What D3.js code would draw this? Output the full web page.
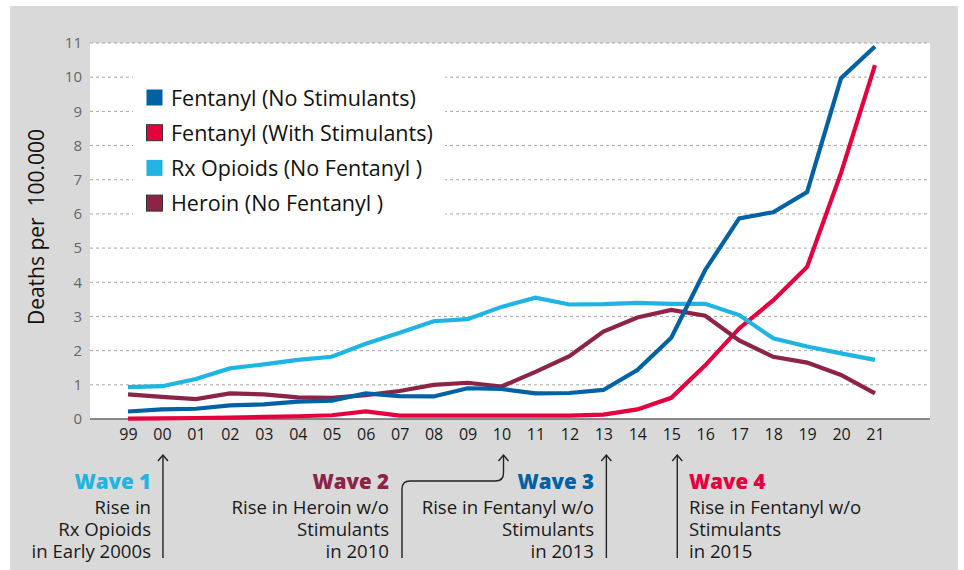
<!DOCTYPE html>
<html>
<head>
<meta charset="utf-8">
<script src="https://cdn.jsdelivr.net/npm/d3@7"></script>
<style>
  html, body { margin: 0; padding: 0; background: #fff; }
  svg { display: block; font-family: "Open Sans", "Noto Sans", sans-serif; }
</style>
</head>
<body>
<svg id="chart" width="964" height="570"></svg>
<script>
// Overdose death rates per 100,000, 1999–2021
const years = ["99","00","01","02","03","04","05","06","07","08","09","10","11","12","13","14","15","16","17","18","19","20","21"];
const fentanylNoStim   = [0.22,0.28,0.30,0.40,0.43,0.51,0.54,0.75,0.67,0.66,0.90,0.88,0.75,0.76,0.85,1.43,2.38,4.36,5.87,6.05,6.64,9.97,10.9];
const fentanylWithStim = [0.01,0.02,0.03,0.04,0.06,0.08,0.11,0.22,0.10,0.10,0.10,0.10,0.10,0.10,0.13,0.28,0.62,1.57,2.65,3.47,4.45,7.20,10.35];
const rxOpioids        = [0.93,0.96,1.17,1.48,1.60,1.73,1.82,2.20,2.52,2.86,2.92,3.28,3.55,3.35,3.36,3.40,3.37,3.37,3.04,2.36,2.12,1.92,1.73];
const heroin           = [0.72,0.65,0.58,0.75,0.72,0.63,0.62,0.70,0.82,1.00,1.06,0.95,1.38,1.84,2.56,2.97,3.19,3.02,2.30,1.82,1.65,1.29,0.75];
const yTicks = [0,1,2,3,4,5,6,7,8,9,10,11];

const seriesNames  = ["Fentanyl (No Stimulants)", "Fentanyl (With Stimulants)", "Rx Opioids (No Fentanyl )", "Heroin (No Fentanyl )"];
const seriesColors = ["#0062a4", "#e5003e", "#1fb4e2", "#8c2447"];
const seriesValues = [fentanylNoStim, fentanylWithStim, rxOpioids, heroin];

// Wave annotations
const waveTitles = ["Wave 1", "Wave 2", "Wave 3", "Wave 4"];
const waveLines = [
  ["Rise in", "Rx Opioids", "in Early 2000s"],
  ["Rise in Heroin w/o", "Stimulants", "in 2010"],
  ["Rise in Fentanyl w/o", "Stimulants", "in 2013"],
  ["Rise in Fentanyl w/o", "Stimulants", "in 2015"]
];
const waveYears = ["00", "10", "13", "15"];
const waveColors = ["#1fb4e2", "#8c2447", "#0062a4", "#e5003e"];

const svg = d3.select("#chart");

// panel backgrounds
svg.append("rect").attr("x", 10).attr("y", 6).attr("width", 948).attr("height", 564).attr("fill", "#d9d9d9");

const plot = { left: 90, right: 930, top: 43, bottom: 419 };
svg.append("rect").attr("x", plot.left).attr("y", plot.top)
  .attr("width", plot.right - plot.left).attr("height", plot.bottom - plot.top).attr("fill", "#fff");

const x = d3.scalePoint().domain(years).range([128, 875]);
const y = d3.scaleLinear().domain([0, 11]).range([plot.bottom, plot.top]);

// horizontal dashed grid
svg.append("g").selectAll("line").data(yTicks.filter(d => d > 0)).join("line")
  .attr("x1", plot.left).attr("x2", plot.right)
  .attr("y1", d => y(d)).attr("y2", d => y(d))
  .attr("stroke", "#a6a6a6").attr("stroke-width", 1).attr("stroke-dasharray", "3,3");

// y axis labels
const yAxis = svg.append("g").attr("transform", `translate(${plot.left},0)`)
  .call(d3.axisLeft(y).tickValues(yTicks).tickSize(0).tickPadding(8));
yAxis.select(".domain").remove();
yAxis.selectAll("text").attr("font-size", 15).attr("fill", "#666").attr("font-family", "'Open Sans', sans-serif");

// x axis baseline and labels
const xAxis = svg.append("g").attr("transform", `translate(0,${plot.bottom})`)
  .call(d3.axisBottom(x).tickSize(0).tickPadding(10));
xAxis.select(".domain").remove();
xAxis.selectAll("text").attr("font-size", 16).attr("fill", "#1a1a1a").attr("font-family", "'Open Sans', sans-serif");
svg.append("line").attr("x1", plot.left).attr("x2", plot.right)
  .attr("y1", plot.bottom).attr("y2", plot.bottom)
  .attr("stroke", "#666").attr("stroke-width", 1.5);

// axis title
svg.append("text")
  .attr("transform", `translate(44,${(plot.top + plot.bottom) / 2 - 4}) rotate(-90)`)
  .attr("text-anchor", "middle").attr("font-size", 21).attr("fill", "#111")
  .attr("xml:space", "preserve")
  .text("Deaths per  100.000");

// legend box (hides the grid behind it)
svg.append("rect").attr("x", 133).attr("y", 72).attr("width", 312).attr("height", 146).attr("fill", "#fff");
const legend = svg.append("g");
seriesNames.forEach((name, i) => {
  const cy = 98 + i * 35.2;
  legend.append("rect").attr("x", 146.5).attr("y", cy - 8.5).attr("width", 16).attr("height", 16)
    .attr("fill", seriesColors[i])
    .attr("stroke", i === 0 || i === 2 ? "none" : "#333").attr("stroke-width", 1);
  legend.append("text").attr("x", 171).attr("y", cy).attr("dy", "0.35em")
    .attr("font-size", 21.5).attr("fill", "#111").text(name);
});

// lines
const line = d3.line().x((d, i) => x(years[i])).y(d => y(d));
const drawOrder = [1, 2, 3, 0];
svg.append("g").selectAll("path").data(drawOrder).join("path")
  .attr("d", k => line(seriesValues[k]))
  .attr("fill", "none").attr("stroke", k => seriesColors[k])
  .attr("stroke-width", 4.2).attr("stroke-linejoin", "miter");

// wave annotations
const ann = svg.append("g");
const arrowTop = 455, arrowBottom = 558;
const arrowOffsets = [1, 2, 3, 6];
function arrowHead(g, ax) {
  g.append("path").attr("d", `M${ax - 5},${arrowTop + 6} L${ax},${arrowTop} L${ax + 5},${arrowTop + 6}`)
    .attr("fill", "none").attr("stroke", "#222").attr("stroke-width", 1.4);
}
waveYears.forEach((yr, i) => {
  const ax = x(yr) + arrowOffsets[i];
  if (i === 1) {
    // elbow connector from the text block to the 2010 tick
    const lx = 402, hy = 481, r = 8;
    ann.append("path")
      .attr("d", `M${lx},${arrowBottom} L${lx},${hy + r} Q${lx},${hy} ${lx + r},${hy} L${ax - r},${hy} Q${ax},${hy} ${ax},${hy - r} L${ax},${arrowTop}`)
      .attr("fill", "none").attr("stroke", "#222").attr("stroke-width", 1.4);
  } else {
    ann.append("line").attr("x1", ax).attr("x2", ax).attr("y1", arrowTop).attr("y2", arrowBottom)
      .attr("stroke", "#222").attr("stroke-width", 1.4);
  }
  arrowHead(ann, ax);
});

const waveTextX = [151, 389, 594, 689];
const waveAnchor = ["end", "end", "end", "start"];
waveTitles.forEach((t, i) => {
  ann.append("text").attr("x", waveTextX[i]).attr("y", 482).attr("dy", "0.35em")
    .attr("text-anchor", waveAnchor[i]).attr("font-size", 20.5).attr("font-weight", 800)
    .attr("fill", waveColors[i]).text(t);
  waveLines[i].forEach((s, j) => {
    ann.append("text").attr("x", waveTextX[i]).attr("y", 507 + j * 22).attr("dy", "0.35em")
      .attr("text-anchor", waveAnchor[i]).attr("font-size", 18.6).attr("fill", "#1a1a1a").text(s);
  });
});
</script>
</body>
</html>
